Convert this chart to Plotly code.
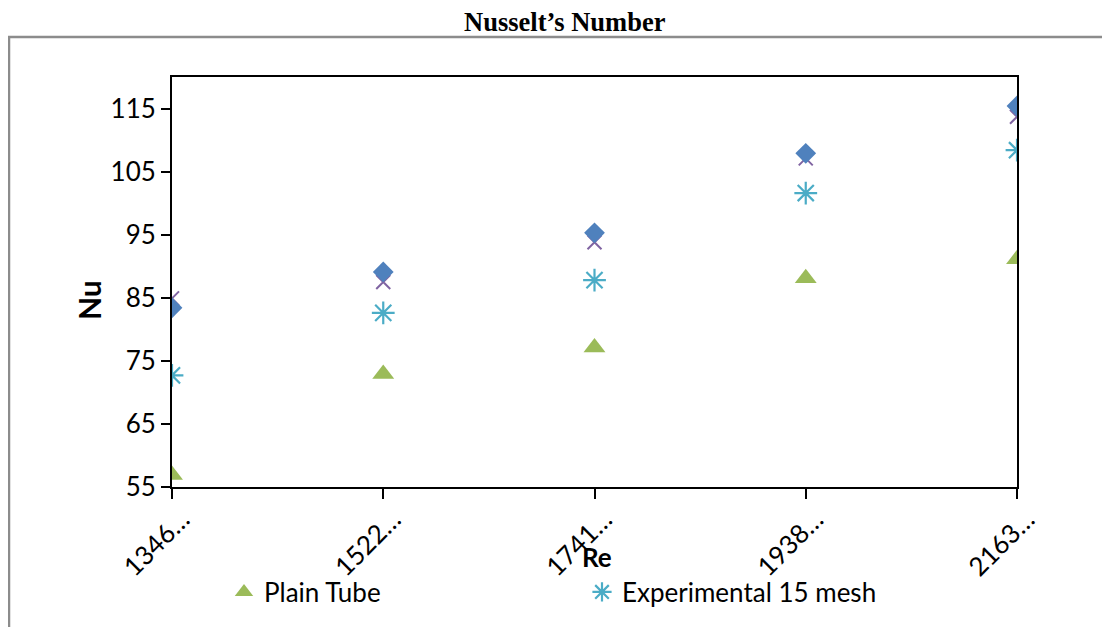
import plotly.graph_objects as go

categories = ["1346…", "1522…", "1741…", "1938…", "2163…"]
plain_tube = [56.9, 72.9, 77.1, 88.1, 91.1]
experimental_15_mesh = [72.7, 82.6, 87.8, 101.6, 108.4]
series_x = [84.9, 87.5, 93.8, 107.1, 113.7]
series_diamond = [83.4, 89.1, 95.3, 107.9, 115.4]
y_ticks = [55, 65, 75, 85, 95, 105, 115]

OFF = 8  # page body margin
W, H = 1110 - OFF, 627 - OFF
L, R, T, B = 172 - OFF, 1017 - OFF, 77 - OFF, 487 - OFF
pw, ph = R - L, B - T

def px_x(p):
    return (p - OFF - L) / pw

def px_y(p):
    return (B - (p - OFF)) / ph

FONT = "Lato"

fig = go.Figure()

fig.add_trace(go.Scatter(
    x=categories, y=plain_tube, mode="markers", name="Plain Tube",
    marker=dict(symbol="triangle-up", size=19, color="#9BBB59"),
    legendrank=1,
))
fig.add_trace(go.Scatter(
    x=categories, y=experimental_15_mesh, mode="markers", name="Experimental 15 mesh",
    marker=dict(symbol="asterisk-open", size=19, color="#4BACC6",
                line=dict(color="#4BACC6", width=2.2)),
    legendrank=2,
))
fig.add_trace(go.Scatter(
    x=categories, y=series_x, mode="markers", name="Series 3", showlegend=False,
    marker=dict(symbol="x-thin-open", size=14, color="#8064A2",
                line=dict(color="#8064A2", width=2)),
))
fig.add_trace(go.Scatter(
    x=categories, y=series_diamond, mode="markers", name="Series 4", showlegend=False,
    marker=dict(symbol="diamond", size=16, color="#4F81BD"),
))

fig.update_xaxes(
    type="category", range=[0, 4], showline=True, linecolor="black", linewidth=2,
    mirror=True, ticks="outside", ticklen=10, tickwidth=1.5, tickcolor="black",
    tickangle=-45, tickfont=dict(family=FONT, size=26, color="black"),
    ticklabelshift=10, ticklabelstandoff=-5,
    showgrid=False, zeroline=False,
)
fig.update_yaxes(
    range=[55, 120], tickvals=y_ticks, showline=True, linecolor="black", linewidth=2,
    mirror=True, ticks="outside", ticklen=9, tickwidth=1.5, tickcolor="black",
    tickfont=dict(family=FONT, size=26, color="black"),
    showgrid=False, zeroline=False,
)

fig.add_shape(type="rect", xref="paper", yref="paper",
              x0=px_x(9), x1=px_x(1125), y0=px_y(37), y1=px_y(645),
              line=dict(color="#8C8C8C", width=2.5), fillcolor="rgba(0,0,0,0)", layer="below")

fig.add_annotation(text="<b>Nusselt’s Number</b>", xref="paper", yref="paper",
                   x=px_x(565), y=px_y(22), showarrow=False,
                   font=dict(family="Liberation Serif", size=26.5, color="black"),
                   xanchor="center", yanchor="middle")
fig.add_annotation(text="<b>Nu</b>", xref="paper", yref="paper",
                   x=px_x(89), y=px_y(300), showarrow=False, textangle=-90,
                   font=dict(family=FONT, size=30, color="black"),
                   xanchor="center", yanchor="middle")
fig.add_annotation(text="<b>Re</b>", xref="paper", yref="paper",
                   x=px_x(597), y=px_y(557), showarrow=False,
                   font=dict(family=FONT, size=26, color="black"),
                   xanchor="center", yanchor="middle")

fig.update_layout(
    width=W, height=H,
    margin=dict(l=L, r=W - R, t=T, b=H - B, autoexpand=False),
    paper_bgcolor="white", plot_bgcolor="white",
    showlegend=True,
    legend=dict(orientation="h", x=px_x(224), xanchor="left", y=px_y(592), yanchor="middle",
                font=dict(family=FONT, size=26, color="black"),
                entrywidth=313, entrywidthmode="pixels", bgcolor="rgba(0,0,0,0)"),
)

fig.write_html("out.html")
